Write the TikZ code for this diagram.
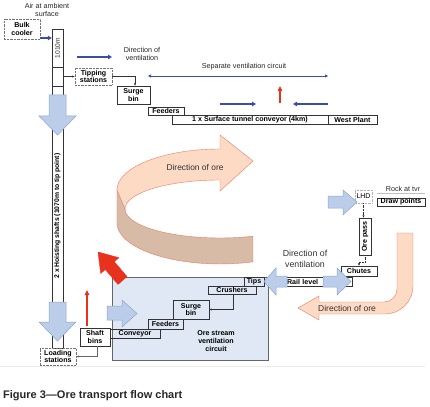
\documentclass[tikz,border=0pt]{standalone}
\usepackage{fontspec}
\setmainfont{Liberation Sans}
\usetikzlibrary{arrows.meta}
\definecolor{ventblue}{HTML}{3B4EA6}
\definecolor{airfill}{HTML}{BBCDE9}
\definecolor{airline}{HTML}{8BA5D2}
\definecolor{orefill}{HTML}{FCDAC4}
\definecolor{oreline}{HTML}{EC7B66}
\definecolor{oreside}{HTML}{D7BBA6}
\definecolor{boxfill}{HTML}{DFE8F4}
\definecolor{hot}{HTML}{E8321E}

\begin{document}
\begin{tikzpicture}[x=1pt,y=-1pt,
box/.style={draw=black!80,line width=.4pt,inner sep=0pt,align=center,font=\fontsize{7.1}{7.6}\selectfont\bfseries},
dotbox/.style={box,draw=black!55,densely dotted},
note/.style={inner sep=0pt,align=center,font=\fontsize{7.2}{8.6}\selectfont,text=black!85},
big/.style={inner sep=0pt,align=center,font=\fontsize{8.8}{11.5}\selectfont,text=black!80},
link/.style={-{Latex[length=2.4pt,width=2.2pt]},line width=.4pt,black!80},
dotlink/.style={link,densely dotted},
ventarr/.style={-{Triangle[length=4pt,width=4.5pt]},line width=1.6pt,ventblue},
heatarr/.style={-{Triangle[length=5pt,width=4.5pt]},line width=1.4pt,hot},
air/.style={fill=airfill,draw=airline,line width=.5pt},
ore/.style={fill=orefill,draw=oreline,line width=.4pt}]
\useasboundingbox (0,0) rectangle (430,406);

% shaft and surface
\node[box,minimum width=11,minimum height=319] (shaft) at (57.5,188.5) {};
\draw[black!80,line width=.4pt] (shaft.west |- 0,67) -- (shaft.east |- 0,67) (shaft.west |- 0,86) -- (shaft.east |- 0,86);
\node[note] (ambient) at (47,10) {Air at ambient\\surface};
\node[dotbox,minimum width=36,minimum height=20] (bulk) at (22,29) {Bulk\\cooler};
\node[dotbox,minimum width=36,minimum height=17] (loading) at (58,356.5) {Loading\\stations};
\draw[air] (49,95) -- (66,95) -- (66,116) -- (76,116) -- (57.5,135) -- (39,116) -- (49,116) -- cycle;
\draw[air] (49,302) -- (66,302) -- (66,322) -- (76,322) -- (57.5,341) -- (39,322) -- (49,322) -- cycle;
\node[note,rotate=90,font=\fontsize{6.6}{7}\selectfont] (depth) at (57.5,48) {1010m};
\node[box,draw=none,rotate=90,font=\fontsize{6.8}{7}\selectfont\bfseries] (hoist) at (57.5,216) {2 x Hoisting shafts (1070m to tip point)};
\draw[ventarr,line width=1.3pt] (bulk.east |- 0,38) -- (shaft.west |- 0,38);

% surface ore path
\node[dotbox,minimum width=37,minimum height=17] (tipping) at (93.5,76.5) {Tipping\\stations};
\node[box,minimum width=33,minimum height=18] (surgeA) at (133.5,95) {Surge\\bin};
\node[box,minimum width=36,minimum height=8] (feedA) at (166,111) {Feeders};
\node[box,minimum width=156,minimum height=9] (tunnel) at (250,119.5) {1 x Surface tunnel conveyor (4km)};
\node[box,minimum width=49,minimum height=9] (west) at (352.5,119.5) {West Plant};
\draw[link] (tipping.west -| shaft.east) -- (tipping.west);
\draw[link] (tipping.east) -| ([xshift=1.5pt]surgeA.north);
\node[note] (ventA) at (142,54) {Direction of\\ventilation};
\node[note] (separate) at (244,67) {Separate ventilation circuit};
\coordinate (ventAtail) at (77,57);
\coordinate (sepL) at (148,76);
\coordinate (sepR) at (328,76);
\draw[ventarr] (ventAtail) -- ++(35,0);
\draw[{Triangle[length=3pt,width=3pt]}-{Triangle[length=3pt,width=3pt]},ventblue,line width=.6pt] (sepL) -- (sepR);
\draw[ventarr] (220,104) -- (256,104);
\draw[ventarr] (328,104) -- (293,104);
\draw[heatarr] (280,103) -- (280,86);

% direction of ore (turning arrow)
\draw[ore,fill=oreside] (117,190) -- (125,209) arc[start angle=180,end angle=69.7,x radius=95,y radius=29]
  -- (253,261.8) arc[start angle=71.3,end angle=180,x radius=103,y radius=41] -- cycle;
\draw[ore] (117,190) arc[start angle=180,end angle=270,x radius=103,y radius=41]
  -- (220,135) -- (253,161) -- (220,191) -- (220,180)
  arc[start angle=270,end angle=180,x radius=95,y radius=29] -- cycle;
\node[big,font=\fontsize{8.4}{10}\selectfont] (oreA) at (195,167) {Direction of ore};

% ore stream ventilation circuit
\node[draw=black!60,line width=.4pt,fill=boxfill,minimum width=156,minimum height=83,inner sep=0pt] (orebox) at (190,318.5) {};
\node[box,draw=none] (circuit) at (216,341) {Ore stream\\ventilation\\circuit};
\node[box,minimum width=30,minimum height=18] (shaftbins) at (95,337) {Shaft\\bins};
\node[box,minimum width=50,minimum height=9] (convB) at (135,333.5) {Conveyor};
\node[box,minimum width=35,minimum height=10] (feedB) at (165.5,324) {Feeders};
\node[box,minimum width=36,minimum height=19] (surgeB) at (191,309.5) {Surge\\bin};
\node[box,minimum width=48,minimum height=8] (crushers) at (232,290) {Crushers};
\node[box,minimum width=20,minimum height=9] (tips) at (254,281.5) {Tips};
\node[box,minimum width=67,minimum height=9,text width=63,align=left] (rail) at (318.5,281.5) {Rail level};
\draw[link] ([xshift=1pt]crushers.south) |- (surgeB.east);
\draw[link,black!60] ([xshift=2pt]shaftbins.south) |- (loading.east);
\draw[air] (107,306) -- (122,306) -- (122,300) -- (137,313.5) -- (122,327) -- (122,320) -- (107,320) -- cycle;
\draw[fill=hot,draw=hot] (98,252) -- (118.9,257.7) -- (114.3,261.7) -- (127,276.6) -- (118,284.4) -- (105.3,269.5) -- (100.7,273.5) -- cycle;
\draw[heatarr] (87,326) -- (87,290);

% rock at tvr
\node[note] (rock) at (403,189) {Rock at tvr};
\draw[black!25,line width=.4pt] (377,193.5) -- (425,193.5);
\node[box,minimum width=48,minimum height=8] (draw) at (401,202) {Draw points};
\node[dotbox,draw=black!30,font=\fontsize{7}{8}\selectfont,minimum width=17,minimum height=13] (lhd) at (363.5,196.5) {LHD};
\node[box,rotate=90,minimum width=37,minimum height=12] (orepass) at (365,236.5) {Ore pass};
\node[box,minimum width=36,minimum height=10] (chutes) at (359,271) {Chutes};
\draw[dotlink] (lhd.south) -- (lhd.south |- orepass.east);
\draw[dotlink] (orepass.west) -- ++(0,7) -| (chutes.north);
\draw[air] (328,196) -- (343,196) -- (343,190) -- (357,202) -- (343,215) -- (343,208) -- (328,208) -- cycle;
\draw[air] (287,276) -- (276,276) -- (276,268) -- (264,281.5) -- (276,295) -- (276,287) -- (287,287) -- cycle;
\draw[air] (323,276) -- (337,276) -- (337,268) -- (351,281.5) -- (337,295) -- (337,287) -- (323,287) -- cycle;
\node[big] (ventB) at (305,259) {Direction of\\ventilation};
\draw[ore] (397,233) -- (413,233) -- (413,286) arc[start angle=0,end angle=90,radius=28]
  -- (319,314) -- (319,320) -- (298,308) -- (319,296) -- (319,302) -- (384,302)
  arc[start angle=90,end angle=0,radius=13] -- cycle;
\node[big,font=\fontsize{8.5}{10}\selectfont] (oreB) at (347,308) {Direction of ore};

% caption
\draw[black!8,line width=.4pt] (0,366) -- (425,366);
\node[anchor=west,inner sep=0pt,font=\fontsize{11}{13}\selectfont\bfseries,text=black!85] (caption) at (3,396) {Figure 3—Ore transport flow chart};
\end{tikzpicture}
\end{document}
